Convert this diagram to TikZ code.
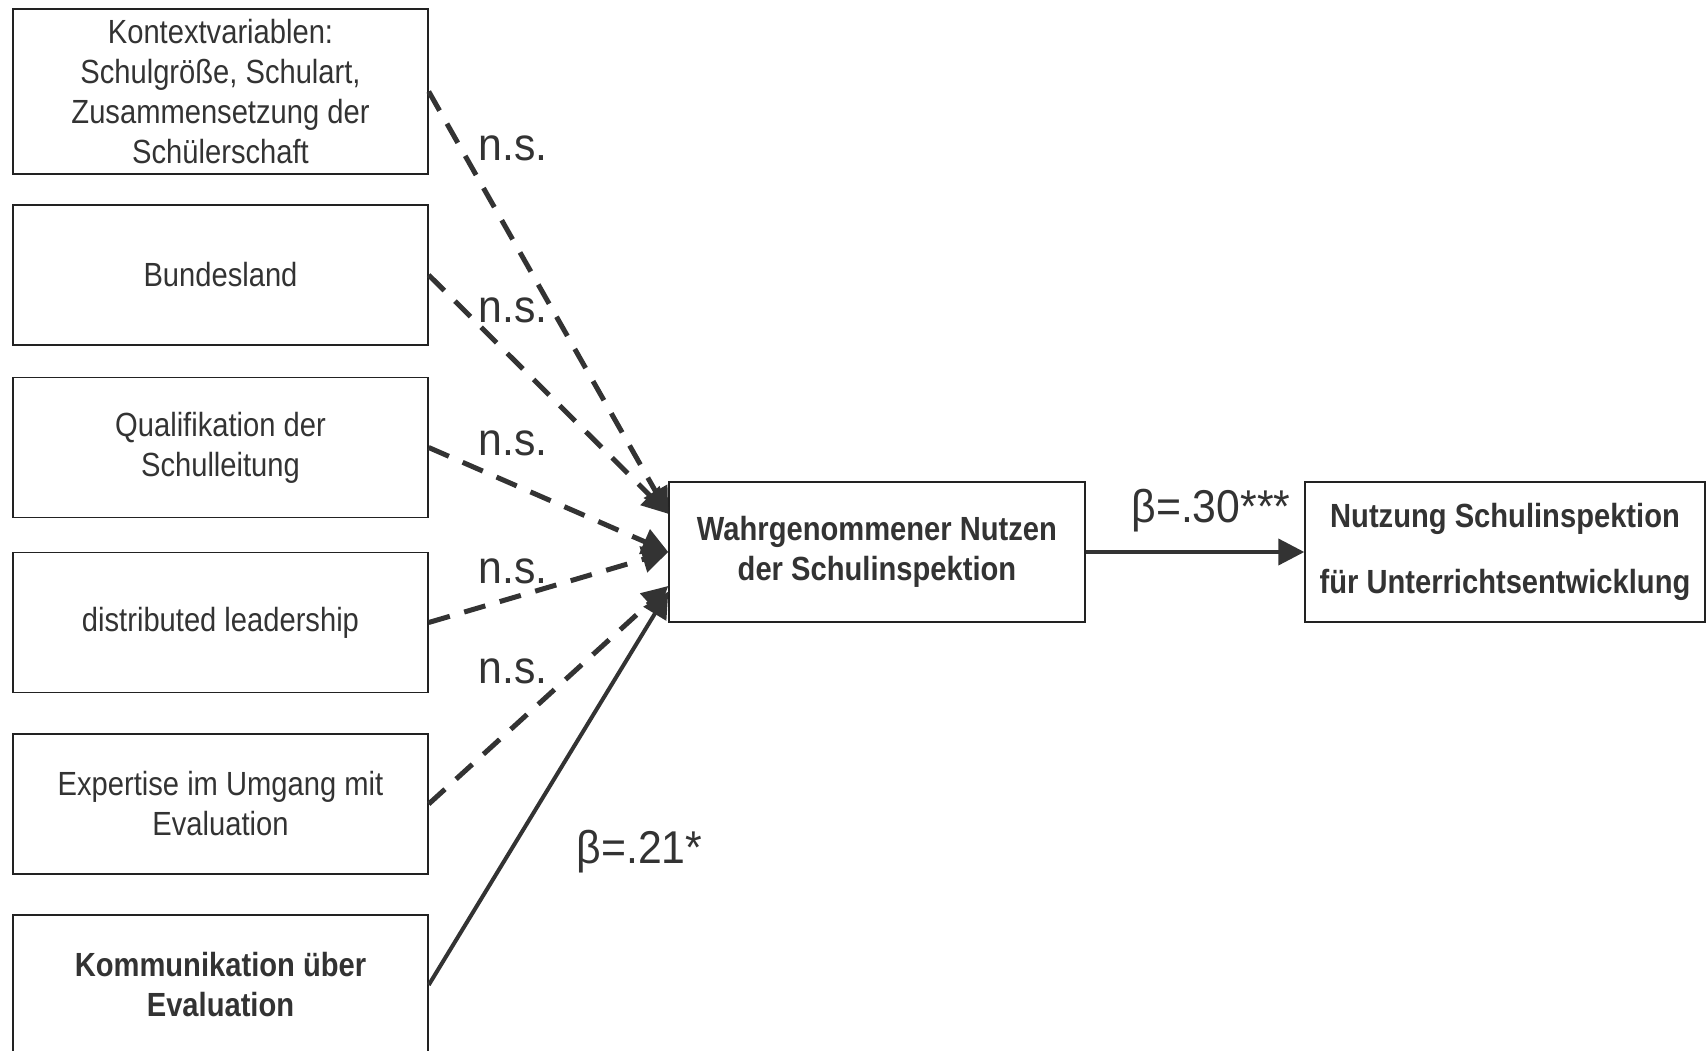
\documentclass[tikz,border=0pt]{standalone}
\usepackage{fontspec}
\setmainfont[FakeStretch=0.87]{Liberation Sans}
\newfontfamily\lblfont[FakeStretch=0.93]{Liberation Sans}
\usetikzlibrary{arrows.meta,calc}
\definecolor{ink}{HTML}{333333}
\definecolor{edge}{HTML}{222222}
\begin{document}
\begin{tikzpicture}[x=1pt,y=-1pt,
  box/.style={draw=edge, line width=1.4pt, minimum width=415pt, minimum height=140pt,
    inner sep=0pt, align=center, text=ink, font=\fontsize{33.5}{40}\selectfont},
  boldbox/.style={box, font=\fontsize{33.5}{40}\selectfont\bfseries},
  lbl/.style={text=ink, font=\lblfont\fontsize{46}{50}\selectfont, inner sep=0pt},
  dasharrow/.style={draw=ink, line width=5pt, dash pattern=on 22pt off 15pt,
    -{Triangle[length=26pt,width=26pt]}},
  solidarrow/.style={draw=ink, line width=4pt, -{Triangle[length=26pt,width=26pt]}}]
\useasboundingbox (0,0) rectangle (1706,1050);

\node[box, minimum height=165pt] (b1) at (220.5,91.5) {Kontextvariablen:\\Schulgröße, Schulart,\\Zusammensetzung der\\Schülerschaft};
\node[box] (b2) at (220.5,275) {Bundesland};
\node[box] (b3) at (220.5,447.5) {Qualifikation der\\Schulleitung};
\node[box] (b4) at (220.5,622.5) {distributed leadership};
\node[box] (b5) at (220.5,804) {Expertise im Umgang mit\\Evaluation};
\node[boldbox] (b6) at (220.5,985) {Kommunikation über\\Evaluation};

\node[boldbox, minimum width=416pt] (W) at (877,552) {Wahrgenommener Nutzen\\der Schulinspektion};
\node[boldbox, minimum width=400pt, font=\fontsize{33.5}{66}\selectfont\bfseries] (N) at (1505,552) {Nutzung Schulinspektion\\für Unterrichtsentwicklung};

\coordinate (t1) at ($(W.north west)!0.23!(W.south west)$);
\coordinate (t3) at ($(W.north west)!0.5!(W.south west)$);
\coordinate (t5) at ($(W.north west)!0.74!(W.south west)$);
\coordinate (t6) at ($(W.north west)!0.78!(W.south west)$);

\draw[dasharrow] (b1.east) -- (t1);
\draw[dasharrow] (b2.east) -- (t1);
\draw[dasharrow] (b3.east) -- (t3);
\draw[dasharrow] (b4.east) -- (t3);
\draw[dasharrow] (b5.east) -- (t5);
\draw[solidarrow] (b6.east) -- (t6);
\draw[solidarrow] (W.east) -- (N.west);

\node[lbl] (l1) at (513,148) {n.s.};
\node[lbl] (l2) at (513,310) {n.s.};
\node[lbl] (l3) at (513,443) {n.s.};
\node[lbl] (l4) at (513,571) {n.s.};
\node[lbl] (l5) at (513,671) {n.s.};
\node[lbl, anchor=base] (l6) at (639.5,863) {β=.21*};
\node[lbl, anchor=base] (l7) at (1211,522) {β=.30***};
\end{tikzpicture}
\end{document}
